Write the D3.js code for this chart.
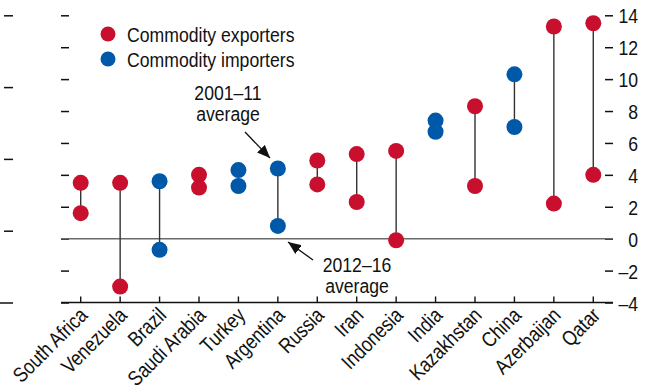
<!DOCTYPE html>
<html>
<head>
<meta charset="utf-8">
<script src="https://cdn.jsdelivr.net/npm/d3@7"></script>
<style>
  html, body { margin: 0; padding: 0; background: #fff; }
  svg { display: block; }
  text { font-family: "Liberation Sans", Arial, sans-serif; fill: #111; font-size: 21px; }
</style>
</head>
<body>
<svg id="chart" width="647" height="388"></svg>
<script>
// Countries, ordered by their 2001–11 average
const categories = ["South Africa", "Venezuela", "Brazil", "Saudi Arabia", "Turkey", "Argentina",
  "Russia", "Iran", "Indonesia", "India", "Kazakhstan", "China", "Azerbaijan", "Qatar"];
// "exp" = commodity exporter, "imp" = commodity importer
const groups = ["exp", "exp", "imp", "exp", "imp", "imp", "exp", "exp", "exp", "imp", "exp", "imp", "exp", "exp"];
const avg2001_11 = [3.5, 3.5, 3.6, 4.0, 4.3, 4.4, 4.9, 5.3, 5.5, 7.4, 8.3, 10.3, 13.3, 13.5];
const avg2012_16 = [1.6, -3.0, -0.7, 3.2, 3.3, 0.8, 3.4, 2.3, -0.1, 6.7, 3.3, 7.0, 2.2, 4.0];
const yTicks = [-4, -2, 0, 2, 4, 6, 8, 10, 12, 14];
const outerTicks = [0, 1, 2, 3, 4];

const colors = { exp: "#c8102e", imp: "#0058a8" };
const legendItems = [
  { key: "exp", label: "Commodity exporters" },
  { key: "imp", label: "Commodity importers" }
];

// Horizontal squeeze that gives the sans face a condensed look
const NARROW = 0.84;

const svg = d3.select("#chart");
const plotLeft = 61, plotRight = 613, plotTop = 15.3, plotBottom = 302.5;

const x = d3.scaleBand().domain(categories).range([plotLeft, plotRight]).padding(0);
const cx = c => x(c) + x.bandwidth() / 2;
const y = d3.scaleLinear().domain([-4, 14]).range([plotBottom, plotTop]);

// Tick stubs on the far left edge
const yOuter = d3.scaleLinear().domain([0, 4]).range([plotBottom, plotTop]);
const outer = svg.append("g").attr("transform", "translate(4,0)")
  .call(d3.axisRight(yOuter).tickValues(outerTicks).tickSize(9).tickFormat(""));
outer.select(".domain").remove();
outer.selectAll(".tick line").attr("stroke", "#111").attr("stroke-width", 1.5)
  .attr("x1", d => d === 0 ? -4 : 0);

// Inner left ticks (unlabelled)
const leftAxis = svg.append("g").attr("transform", `translate(${plotLeft},0)`)
  .call(d3.axisRight(y).tickValues(yTicks).tickSize(8).tickFormat(""));
leftAxis.select(".domain").remove();
leftAxis.selectAll(".tick line").attr("stroke", "#111").attr("stroke-width", 1.5);

// Right axis with labels
const rightAxis = svg.append("g").attr("transform", `translate(${plotRight},0)`)
  .call(d3.axisLeft(y).tickValues(yTicks).tickSize(8)
    .tickFormat(d => d < 0 ? "\u2013" + Math.abs(d) : String(d)));
rightAxis.select(".domain").remove();
rightAxis.selectAll(".tick line").attr("stroke", "#111").attr("stroke-width", 1.5);
rightAxis.selectAll(".tick text")
  .attr("x", null).attr("dy", "0.36em")
  .attr("transform", `translate(25,0) scale(${NARROW},1)`)
  .style("text-anchor", "end")
  .attr("font-size", 21)
  .attr("font-family", "'Liberation Sans', Arial, sans-serif")
  .attr("fill", "#111");

// Zero line
svg.append("line")
  .attr("x1", plotLeft).attr("x2", plotRight)
  .attr("y1", y(0)).attr("y2", y(0))
  .attr("stroke", "#6a6a6a").attr("stroke-width", 1.6);

// Bottom axis
const xAxis = svg.append("g").attr("transform", `translate(0,${plotBottom})`)
  .call(d3.axisBottom(x).tickSizeInner(-6).tickSizeOuter(0).tickFormat(""));
xAxis.select(".domain").attr("stroke", "#111").attr("stroke-width", 1.6)
  .attr("d", `M${plotLeft},0H${plotRight}`);
xAxis.selectAll(".tick line").attr("stroke", "#111").attr("stroke-width", 1.4);

svg.append("g").selectAll("text")
  .data(categories)
  .join("text")
  .attr("transform", d => `translate(${cx(d) + 8},${plotBottom + 14}) rotate(-45) scale(${NARROW},1)`)
  .style("text-anchor", "end")
  .text(d => d);

// Stems between the two period averages
const rows = categories.map((c, i) => ({ c, g: groups[i], a: avg2001_11[i], b: avg2012_16[i] }));
svg.append("g").selectAll("line")
  .data(rows)
  .join("line")
  .attr("x1", d => cx(d.c)).attr("x2", d => cx(d.c))
  .attr("y1", d => y(d.a)).attr("y2", d => y(d.b))
  .attr("stroke", "#333").attr("stroke-width", 1.4);

// Dots
const dots = svg.append("g");
dots.selectAll("circle.a")
  .data(rows).join("circle").attr("class", "a")
  .attr("cx", d => cx(d.c)).attr("cy", d => y(d.a)).attr("r", 8)
  .attr("fill", d => colors[d.g]);
dots.selectAll("circle.b")
  .data(rows).join("circle").attr("class", "b")
  .attr("cx", d => cx(d.c)).attr("cy", d => y(d.b)).attr("r", 8)
  .attr("fill", d => colors[d.g]);

// Legend
const legend = svg.append("g");
legendItems.forEach((item, i) => {
  legend.append("circle").attr("cx", 108).attr("cy", 34 + i * 25).attr("r", 7.5)
    .attr("fill", colors[item.key]);
  legend.append("text")
    .attr("transform", `translate(127,${41.5 + i * 25}) scale(${NARROW},1)`)
    .text(item.label);
});

// Annotations
const defs = svg.append("defs");
defs.append("marker")
  .attr("id", "arrowhead")
  .attr("viewBox", "0 0 12 10")
  .attr("refX", 12).attr("refY", 5)
  .attr("markerWidth", 13).attr("markerHeight", 11)
  .attr("markerUnits", "userSpaceOnUse")
  .attr("orient", "auto")
  .append("path").attr("d", "M0,0L12,5L0,10Z").attr("fill", "#111");

const notes = [
  { lines: ["2001\u201311", "average"], x: 228, y: 100, from: [245, 132], to: [270, 158] },
  { lines: ["2012\u201316", "average"], x: 357, y: 272, from: [313, 260], to: [288, 242] }
];
notes.forEach(n => {
  const t = svg.append("text")
    .attr("transform", `translate(${n.x},${n.y}) scale(${NARROW},1)`)
    .style("text-anchor", "middle");
  n.lines.forEach((s, i) => {
    t.append("tspan").attr("x", 0).attr("dy", i === 0 ? 0 : 21).text(s);
  });
  svg.append("line")
    .attr("x1", n.from[0]).attr("y1", n.from[1])
    .attr("x2", n.to[0]).attr("y2", n.to[1])
    .attr("stroke", "#111").attr("stroke-width", 1.3)
    .attr("marker-end", "url(#arrowhead)");
});
</script>
</body>
</html>
